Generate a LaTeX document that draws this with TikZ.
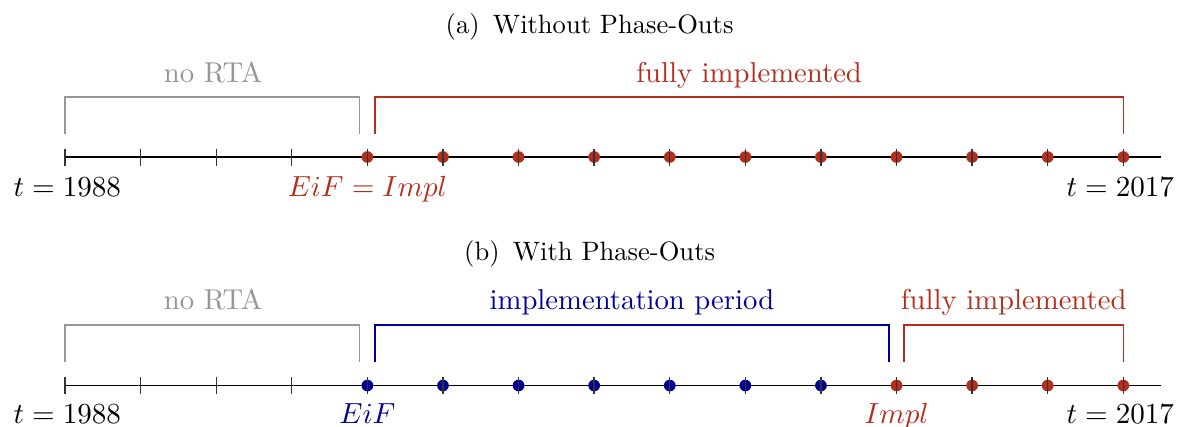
\documentclass[tikz,border=0pt]{standalone}
\definecolor{myred}{RGB}{181,46,28}
\definecolor{myblue}{RGB}{0,0,150}
\definecolor{mygray}{RGB}{150,150,150}
\begin{document}
\begin{tikzpicture}[x=1cm,y=1cm,
  axisline/.style={line width=0.6pt,black},
  tickmark/.style={line width=0.5pt,black!80},
  bracketline/.style={line width=0.5pt},
  dotred/.style={circle,fill=myred,inner sep=0pt,minimum size=0.155cm},
  dotblue/.style={circle,fill=myblue,inner sep=0pt,minimum size=0.155cm},
  lab/.style={anchor=base,font=\fontsize{11.3}{14}\selectfont,inner sep=0pt},
  txt/.style={anchor=base,font=\fontsize{10.8}{13}\selectfont,inner sep=0pt},
  captext/.style={anchor=base,font=\fontsize{10}{12}\selectfont,inner sep=0pt}]
\useasboundingbox (-0.86,0) rectangle (14.75,-5.648);
% ---------- panel (a) ----------
\node[captext] (capa) at (6.94,-0.437) {(a)\enspace Without Phase-Outs};
\coordinate (a0) at (0,-2.077);
\coordinate (a14) at (14.5,-2.077);
\draw[axisline] (a0) -- (a14);
\foreach \i in {4,...,14} {\node[dotred] (ad\i) at (\i,-2.077) {};}
\foreach \i in {0,...,14} {\draw[tickmark] (\i,-1.967) -- (\i,-2.192);}
\draw[bracketline,mygray] (0,-1.772) -- (0,-1.283) -- (3.9,-1.283) -- (3.9,-1.772);
\draw[bracketline,myred] (4.1,-1.772) -- (4.1,-1.283) -- (14,-1.283) -- (14,-1.772);
\node[txt,text=mygray] (anorta) at (1.96,-1.085) {no RTA};
\node[txt,text=myred] (afull) at (9.05,-1.085) {fully implemented};
\node[lab] (astart) at (0.03,-2.600) {$t=1988$};
\node[lab,text=myred] (aeif) at (4,-2.600) {$EiF=Impl$};
\node[lab] (aend) at (13.96,-2.600) {$t=2017$};
% ---------- panel (b) ----------
\node[captext] (capb) at (6.94,-3.45) {(b)\enspace With Phase-Outs};
\coordinate (b0) at (0,-5.100);
\coordinate (b14) at (14.5,-5.100);
\draw[axisline] (b0) -- (b14);
\foreach \i in {4,...,10} {\node[dotblue] (bd\i) at (\i,-5.100) {};}
\foreach \i in {11,...,14} {\node[dotred] (bd\i) at (\i,-5.100) {};}
\foreach \i in {0,...,14} {\draw[tickmark] (\i,-4.990) -- (\i,-5.215);}
\draw[bracketline,mygray] (0,-4.788) -- (0,-4.299) -- (3.9,-4.299) -- (3.9,-4.788);
\draw[bracketline,myblue] (4.1,-4.788) -- (4.1,-4.299) -- (10.9,-4.299) -- (10.9,-4.788);
\draw[bracketline,myred] (11.1,-4.788) -- (11.1,-4.299) -- (14,-4.299) -- (14,-4.788);
\node[txt,text=mygray] (bnorta) at (1.96,-4.10) {no RTA};
\node[txt,text=myblue] (bimpl) at (7.5,-4.10) {implementation period};
\node[txt,text=myred] (bfull) at (12.55,-4.10) {fully implemented};
\node[lab] (bstart) at (0.03,-5.608) {$t=1988$};
\node[lab,text=myblue] (beif) at (4,-5.608) {$EiF$};
\node[lab,text=myred] (bimp) at (11,-5.608) {$Impl$};
\node[lab] (bend) at (13.96,-5.608) {$t=2017$};
\end{tikzpicture}
\end{document}
